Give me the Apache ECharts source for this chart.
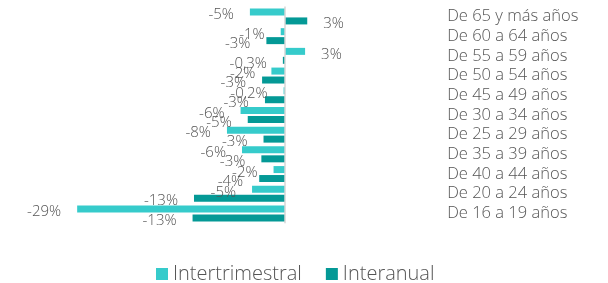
<!DOCTYPE html>
<html><head><meta charset="utf-8">
<script src="https://cdn.jsdelivr.net/npm/echarts@6/dist/echarts.min.js"></script>
<style>html,body{margin:0;padding:0;background:#fff}#c{width:608px;height:283px}</style>
</head><body><div id="c"></div>
<script>
const categories = ["De 65 y más años","De 60 a 64 años","De 55 a 59 años","De 50 a 54 años","De 45 a 49 años","De 30 a 34 años","De 25 a 29 años","De 35 a 39 años","De 40 a 44 años","De 20 a 24 años","De 16 a 19 años"];
const intertrimestral = [-4.9,-0.6,2.8,-1.9,-0.2,-6.2,-8.1,-6.0,-1.6,-4.6,-29.0];
const intertrimestralLabels = ["-5%","-1%","3%","-2%","-0,2%","-6%","-8%","-6%","-2%","-5%","-29%"];
const interanual = [3.1,-2.6,-0.3,-3.2,-2.8,-5.2,-3.0,-3.3,-3.6,-12.7,-12.9];
const interanualLabels = ["3%","-3%","-0,3%","-3%","-3%","-5%","-3%","-3%","-4%","-13%","-13%"];

const FONT = "'Open Sans'";
const TXT = "#555555";
function mk(vals, labels){
  return vals.map((v,i)=>({
    value: v,
    label: {position: v<0?'left':'right', formatter: labels[i]}
  }));
}
const chart = echarts.init(document.getElementById('c'));
chart.setOption({
  animation:false,
  grid:{left:70, right:608-442.7, top:6.6, bottom:283-223.3, containLabel:false},
  xAxis:{type:'value', min:-30, max:22, show:false, splitLine:{show:false}},
  yAxis:{type:'category', data:categories, inverse:true, position:'right',
    axisLine:{show:false}, axisTick:{show:false},
    axisLabel:{interval:0, margin:4.5, align:'left', color:TXT, fontFamily:FONT, fontSize:16.5, fontWeight:300}},
  legend:{top:259, left:151, icon:'rect', itemWidth:12, itemHeight:12, itemGap:24,
    textStyle:{color:TXT, fontFamily:FONT, fontSize:20, fontWeight:300},
    data:['Intertrimestral','Interanual']},
  series:[
    {name:'Intertrimestral', type:'bar', data:mk(intertrimestral,intertrimestralLabels),
     barWidth:7, barGap:'28%', itemStyle:{color:'#36CBCB'},
     label:{show:true, distance:16, offset:[0,3], color:TXT, fontFamily:FONT, fontSize:15, fontWeight:300},
     markLine:{silent:true, symbol:'none', label:{show:false},
       lineStyle:{color:'#d6d6d6', type:'solid', width:1.5}, data:[{xAxis:0}]}},
    {name:'Interanual', type:'bar', data:mk(interanual,interanualLabels),
     barWidth:7, itemStyle:{color:'#049996'},
     label:{show:true, distance:16, offset:[0,3], color:TXT, fontFamily:FONT, fontSize:15, fontWeight:300}}
  ]
});
</script></body></html>
